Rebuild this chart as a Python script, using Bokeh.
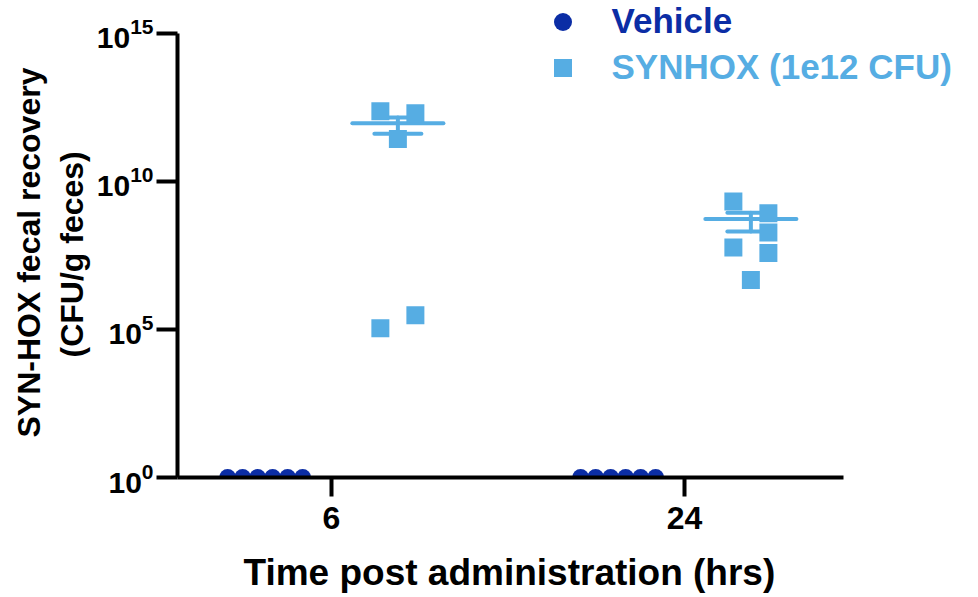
import numpy as np
from bokeh.plotting import figure
from bokeh.models import FixedTicker, LogTickFormatter, Legend, LegendItem, Range1d, Title
from bokeh.embed import file_html
from bokeh.resources import INLINE

# ---- data (CFU / g feces) ----
times = ["6", "24"]
vehicle_6 = [1, 1, 1, 1, 1, 1]
vehicle_24 = [1, 1, 1, 1, 1, 1]
synhox_6 = [2.34e12, 2.0e12, 2.7e11, 1.1e5, 3.0e5]
synhox_24 = [2.1e9, 8.5e8, 1.9e8, 5.9e7, 3.8e7, 4.7e6]
y_ticks = [1, 1e5, 1e10, 1e15]

# ---- layout / style ----
DARK = "#0B2DA5"
LIGHT = "#56ADE3"
FONT = "Liberation Sans"
GROUP_OFF = 0.188      # offset of each series from the time tick
DOT_STEP = 0.0425      # spacing of vehicle dots
SQ_STEP = 0.0496       # spacing of square columns
MEAN_HALF = 0.129
CAP_HALF = 0.0666
slots_6 = [-1, 1, 0, -1, 1]
slots_24 = [-1, 1, 1, -1, 1, 0]
X_AXIS_END = 1.4504

p = figure(width=978, height=597, y_axis_type="log",
           x_range=Range1d(-0.4363, 1.8045), y_range=Range1d(1, 10 ** 16.1124),
           output_backend="svg", toolbar_location=None,
           min_border_left=177, min_border_right=10,
           min_border_top=0, min_border_bottom=119)
p.outline_line_color = None
p.grid.visible = False
p.background_fill_color = "white"
p.border_fill_color = "white"

vehicle = [vehicle_6, vehicle_24]
synhox = [synhox_6, synhox_24]
slots = [slots_6, slots_24]

vx, vy, sx, sy = [], [], [], []
mx0, mx1, my = [], [], []
ex, elo, ehi = [], [], []
cx0, cx1, cy = [], [], []
for gi in range(len(times)):
    vals = vehicle[gi]
    n = len(vals)
    for i, v in enumerate(vals):
        vx.append(gi - GROUP_OFF + (i - (n - 1) / 2) * DOT_STEP)
        vy.append(v)
    c = gi + GROUP_OFF
    for s, v in zip(slots[gi], synhox[gi]):
        sx.append(c + s * SQ_STEP)
        sy.append(v)
    arr = np.array(synhox[gi], dtype=float)
    m = arr.mean()
    sem = arr.std(ddof=1) / np.sqrt(len(arr))
    mx0.append(c - MEAN_HALF); mx1.append(c + MEAN_HALF); my.append(m)
    ex.append(c); elo.append(m - sem); ehi.append(m + sem)
    cx0 += [c - CAP_HALF, c - CAP_HALF]
    cx1 += [c + CAP_HALF, c + CAP_HALF]
    cy += [m - sem, m + sem]

p.segment(x0=mx0, y0=my, x1=mx1, y1=my, line_color=LIGHT, line_width=4, line_cap="round")
p.segment(x0=ex, y0=elo, x1=ex, y1=ehi, line_color=LIGHT, line_width=4, line_cap="round")
p.segment(x0=cx0, y0=cy, x1=cx1, y1=cy, line_color=LIGHT, line_width=4, line_cap="round")

r_v = p.scatter(vx, vy, marker="circle", size=17, fill_color=DARK, line_color=None)
r_s = p.scatter(sx, sy, marker="square", size=18, fill_color=LIGHT, line_color=None)

# ---- axes ----
for ax in (p.xaxis[0], p.yaxis[0]):
    ax.axis_line_width = 4
    ax.axis_line_color = "black"
    ax.major_tick_line_width = 4
    ax.major_tick_line_color = "black"
    ax.major_tick_in = 0
    ax.minor_tick_line_color = None
    ax.major_label_text_font = FONT
    ax.major_label_text_font_style = "bold"
    ax.major_label_text_color = "black"

p.xaxis.bounds = (-0.4363, X_AXIS_END)
p.xaxis.ticker = FixedTicker(ticks=list(range(len(times))), minor_ticks=[])
p.xaxis.major_label_overrides = {i: t for i, t in enumerate(times)}
p.xaxis.major_tick_out = 19
p.xaxis.major_label_standoff = 10
p.xaxis.major_label_text_font_size = "32px"
# blank spacer label: pushes the title below a little further from the tick labels
p.xaxis.axis_label = " "
p.xaxis.axis_label_text_font_size = "2px"
p.xaxis.axis_label_standoff = 8

p.yaxis.bounds = (y_ticks[0], y_ticks[-1])
p.yaxis.ticker = FixedTicker(ticks=y_ticks, minor_ticks=[])
p.yaxis.formatter = LogTickFormatter()
p.yaxis.major_tick_out = 21
p.yaxis.major_label_standoff = 3
p.yaxis.major_label_text_font_size = "30px"

# axis titles as Titles so they can be centred on the drawn axes
def axis_title(text, size, offset, standoff):
    return Title(text=text, align="left", offset=offset, standoff=standoff,
                 text_font=FONT, text_font_style="bold", text_font_size=size,
                 text_color="black")

p.add_layout(axis_title("Time post administration (hrs)", "37px", 66, 10), "below")
p.add_layout(axis_title("(CFU/g feces)", "32px", 120, 8), "left")
p.add_layout(axis_title("SYN-HOX fecal recovery", "32px", 40, 1), "left")

# ---- legends (one per series for per-series text colour) ----
def make_legend(label, rend, color, loc):
    return Legend(items=[LegendItem(label=label, renderers=[rend])], location=loc,
                  padding=0, margin=0, spacing=0, border_line_color=None,
                  background_fill_alpha=0, glyph_width=45, glyph_height=45,
                  label_standoff=27, label_text_font=FONT, label_text_font_style="bold",
                  label_text_font_size="35px", label_text_color=color)

p.add_layout(make_legend("Vehicle", r_v, DARK, (362.5, 433.5)))
p.add_layout(make_legend("SYNHOX (1e12 CFU)", r_s, LIGHT, (362.5, 387.5)))

open("out.html", "w").write(file_html(p, INLINE))
